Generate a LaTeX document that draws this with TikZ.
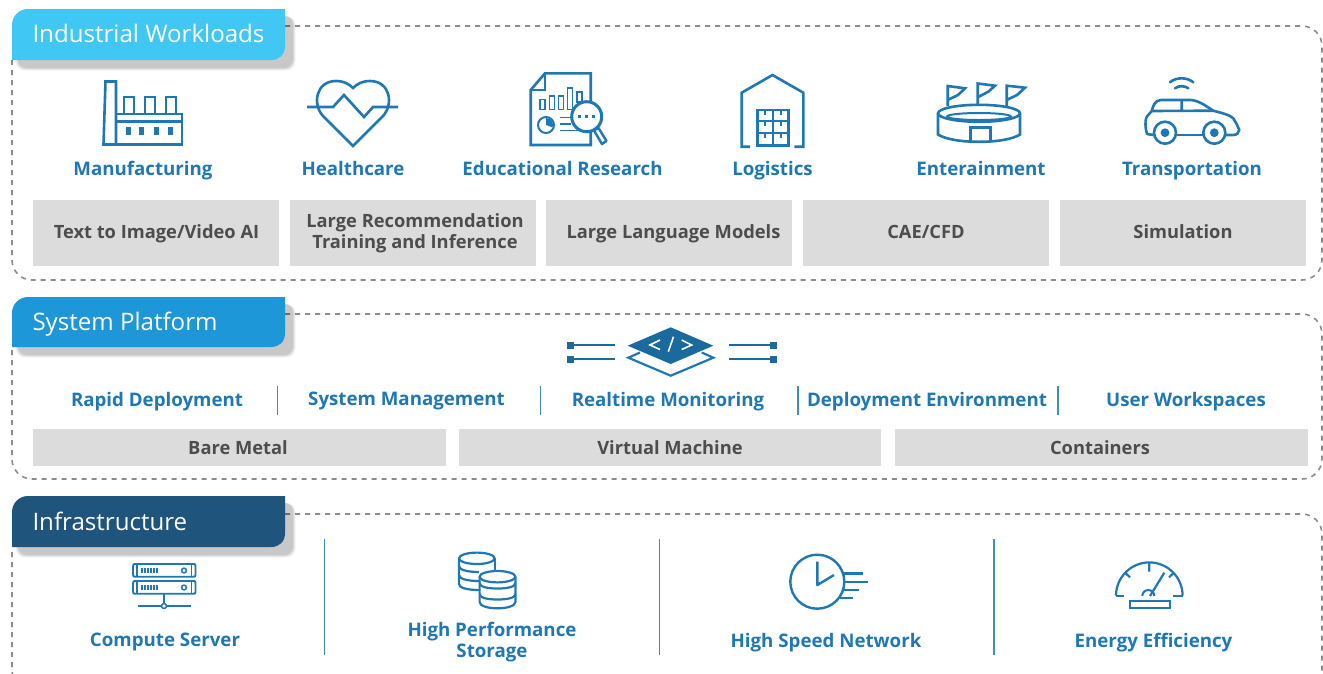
\documentclass[tikz,border=0pt]{standalone}
\usepackage{fontspec}
\setmainfont{Open Sans}
\definecolor{ink}{HTML}{1F78B4}
\definecolor{tabA}{HTML}{41C7F4}
\definecolor{tabB}{HTML}{1D97D8}
\definecolor{tabC}{HTML}{1F547C}
\definecolor{panelgrey}{HTML}{8C8C8C}
\definecolor{boxgrey}{HTML}{DCDCDC}
\definecolor{textgrey}{HTML}{4D4D4D}
\tikzset{
  panel/.style={draw=panelgrey,line width=1.6pt,dash pattern=on 5pt off 5pt,rounded corners=20pt},
  tabtitle/.style={anchor=west,text=white,inner sep=0pt,text height=18pt,text depth=0pt,font=\fontsize{24.1}{30}\selectfont},
  bluelabel/.style={inner sep=0pt,text=ink,text height=14pt,text depth=0pt,font=\fontsize{18.7}{23}\selectfont\bfseries},
  bluelabels/.style={inner sep=0pt,text=ink,align=center,font=\fontsize{18.7}{21}\selectfont\bfseries},
  greybox/.style={fill=boxgrey,draw=none,inner sep=0pt,text=textgrey,align=center,font=\fontsize{18.3}{21}\selectfont\bfseries},
  single/.style={text height=13.5pt,text depth=0pt},
  icon/.style={draw=ink,line width=2.6pt,line join=miter},
  thin icon/.style={draw=ink,line width=1.9pt,line join=round},
  sep/.style={draw=ink!85,line width=1.4pt},
}
\newcommand{\tabshape}[6]{% y0 y1 colour name text titley
  \foreach \k/\o in {9/0.04,7/0.05,5/0.06,3/0.08}{
    \fill[black,opacity=\o,rounded corners=9pt] (19-\k*0.4,#1+7) rectangle (292+\k*0.4,#2+7+\k*0.4);
  }
  \fill[#3] (12,#2) -- (12,#1+16) arc[start angle=180,end angle=90,radius=16pt] -- (285,#1) -- (285,#2-14) .. controls (285,#2-5) and (279,#2) .. (271,#2) -- cycle;
  \node[tabtitle] (#4) at (32.3,#6) {#5};
}
\begin{document}
\begin{tikzpicture}[x=1pt,y=-1pt]
\useasboundingbox (0,0) rectangle (1323,673);
\clip (0,0) rectangle (1323,673);
\fill[white] (0,0) rectangle (1323,673);
% panels
\draw[panel] (285,26) -- (1322,26) -- (1322,280) -- (12,280) -- (12,60);
\draw[panel] (285,314) -- (1322,314) -- (1322,479) -- (12,479) -- (12,347);
\draw[panel] (285,514) -- (1322,514) -- (1322,690) -- (12,690) -- (12,547);
% tabs
\tabshape{9}{60}{tabA}{tabone}{Industrial Workloads}{33.3}
\tabshape{297}{347}{tabB}{tabtwo}{System Platform}{321.3}
\tabshape{496}{547}{tabC}{tabthree}{Infrastructure}{521}
% factory
\draw[icon] (103.5,144.5) -- (105.5,81.5) -- (116,81.5) -- (116,144.5) -- cycle;
\draw[icon] (116,114) -- (182,114) -- (182,144.5) -- (116,144.5);
\draw[icon] (116,121.5) -- (182,121.5);
\foreach \a in {124,145,166}{\draw[icon] (\a,114) -- (\a,97) -- (\a+10,97) -- (\a+10,114);}
\foreach \a in {126,139,154,168}{\fill[ink] (\a,127) rectangle (\a+5,135);}
% heart
\draw[icon] (353,146) -- (323,116) .. controls (312,104) and (316,81) .. (336,81) .. controls (344,81) and (349,84) .. (353,88) .. controls (357,84) and (362,81) .. (370,81) .. controls (390,81) and (394,104) .. (383,116) -- cycle;
\draw[icon] (307,107) -- (333,107) -- (344,95) -- (364,117) -- (373,107) -- (398,107);
% document
\draw[icon] (590.7,101) -- (590.7,73.3) -- (545,73.3) -- (530.7,90) -- (530.7,145) -- (590.7,145) -- (590.7,131);
\draw[icon] (545,73.3) -- (545,90) -- (530.7,90);
\foreach \a/\b/\c in {540/99.5/109.5,549.5/95.7/109.5,558.5/95.7/109.5,567.5/87.7/109.5,576.7/92/102}{
  \draw[ink,line width=1.7pt] (\a,\c) -- (\a,\b) -- (\a+5,\b) -- (\a+5,\c) -- cycle;}
\draw[ink,line width=2pt] (546,125) circle[radius=8pt];
\fill[ink] (546,125) -- (546,118) arc[start angle=90,end angle=-20,radius=7pt] -- cycle;
\foreach \c/\d in {117.7/573,124/571,130.7/578}{\draw[ink,line width=1.4pt] (560,\c) -- (\d,\c);}
\fill[white] (586.7,116.7) circle[radius=15pt];
\draw[ink,line width=3pt] (586.7,116.7) circle[radius=15pt];
\draw[ink,line width=2.4pt,line join=round] (594,130.5) -- (598.5,128) -- (606.5,141) -- (602,144) -- cycle;
\foreach \a in {578,585,592}{\fill[ink] (\a,115.2) rectangle (\a+3,118.2);}
% warehouse
\draw[icon] (750,146.7) -- (741.7,146.7) -- (741.7,92.7) -- (772.5,75) -- (803.3,92.7) -- (803.3,146.7) -- (794.3,146.7);
\draw[icon] (757.5,110) rectangle (788.3,145.7);
\draw[icon] (757.5,121) -- (788.3,121) (757.5,133) -- (788.3,133) (772.9,110) -- (772.9,145.7);
\foreach \a in {765,780.7}{\foreach \b in {110,121,133}{\draw[ink,line width=2.4pt] (\a,\b) -- (\a,\b+4.5);}}
% stadium
\draw[icon,line width=2.6pt] (979,113.3) ellipse[x radius=41,y radius=8.5];
\draw[ink,line width=2pt] (979,116.5) ellipse[x radius=32,y radius=3.5];
\draw[icon,line width=2.6pt] (938,113.3) -- (938,134.5) .. controls (945,139) and (960,141.8) .. (979,141.8) .. controls (998,141.8) and (1013,139) .. (1020,134.5) -- (1020,113.3);
\draw[icon] (970.5,141) -- (970.5,127.5) -- (990.5,127.5) -- (990.5,141);
\draw[icon] (947.7,106) -- (947.7,86) -- (965,88.3) -- (958,95) -- (947.7,100);
\draw[icon] (977.7,104) -- (977.7,83.5) -- (995,85.7) -- (988.3,91.7) -- (977.7,97.3);
\draw[icon] (1006.7,106) -- (1006.7,85.7) -- (1025,87.7) -- (1017,95) -- (1006.7,100);
% car
\draw[icon,line join=round] (1153.3,135) -- (1147,134) .. controls (1145,128) and (1145,120) .. (1146.7,116.7) -- (1151.7,111) .. controls (1153,106) and (1155,100) .. (1161,100) -- (1190,100) .. controls (1198,100) and (1206,106) .. (1213.3,110.7) .. controls (1222,113) and (1230,115) .. (1233.3,118.3) .. controls (1236,123) and (1238,126) .. (1239.3,130) .. controls (1238.5,133) and (1237,135) .. (1233,135) -- (1226,135);
\draw[icon] (1176.5,135) -- (1203,135);
\draw[icon] (1151.7,111) -- (1213.3,110.7) (1181.7,100) -- (1181.7,111);
\foreach \a in {1165,1214.3}{\draw[icon] (\a,132.7) circle[radius=11pt]; \fill[ink] (\a,132.7) circle[radius=4.4pt];}
\draw[icon,line cap=round] (1170,82.3) .. controls (1176,77) and (1187,77) .. (1193.3,82.3);
\draw[icon,line cap=round] (1175,88.3) .. controls (1178,85.5) and (1185,85.5) .. (1188.3,88.3);
% labels row 1
\node[bluelabel] (manufacturing) at (143,168) {Manufacturing};
\node[bluelabel] (healthcare) at (353,168) {Healthcare};
\node[bluelabel] (research) at (562.5,168) {Educational Research};
\node[bluelabel] (logistics) at (772.5,168) {Logistics};
\node[bluelabel] (entertainment) at (981,168) {Enterainment};
\node[bluelabel] (transportation) at (1192,168) {Transportation};
% grey boxes row 1
\node[greybox,single,minimum width=246pt,minimum height=66pt] (g1) at (156,233) {\raisebox{1.5pt}{\hspace*{1pt}Text to Image/Video AI}};
\node[greybox,minimum width=246pt,minimum height=66pt] (g2) at (413,233) {\hspace*{4pt}Large Recommendation\\\hspace*{4pt}Training and Inference};
\node[greybox,single,minimum width=246pt,minimum height=66pt] (g3) at (669,233) {\raisebox{.8pt}{\hspace*{9pt}Large Language Models}};
\node[greybox,single,minimum width=246pt,minimum height=66pt] (g4) at (926,233) {\raisebox{.8pt}{CAE/CFD}};
\node[greybox,single,minimum width=246pt,minimum height=66pt] (g5) at (1183,233) {\raisebox{.8pt}{Simulation}};
% code icon
\draw[ink,line width=2.2pt,line join=miter] (640,352.5) -- (628.3,357.7) -- (670.7,375.7) -- (713.3,357.7) -- (701.7,352.5);
\fill[ink!88!black] (627.7,345.7) -- (670.7,327.3) -- (713.3,345.7) -- (670.7,364) -- cycle;
\draw[white,line width=1.6pt] (660,340) -- (650,345) -- (660,349.5);
\draw[white,line width=1.6pt] (673.5,336.7) -- (668.3,351.7);
\draw[white,line width=1.6pt] (681.7,340) -- (691.7,345) -- (681.7,349.5);
\foreach \c in {345.3,359.3}{
  \draw[ink!88!black,line width=2.2pt] (570,\c) -- (615.3,\c) (729,\c) -- (774,\c);
  \fill[ink!88!black] (567,\c-3.4) rectangle (573.7,\c+3.4);
  \fill[ink!88!black] (770.2,\c-3.4) rectangle (777,\c+3.4);
}
% labels row 2
\node[bluelabel] (rapid) at (157,399) {Rapid Deployment};
\node[bluelabel] (management) at (406.5,398) {System Management};
\node[bluelabel] (monitoring) at (668,399) {Realtime Monitoring};
\node[bluelabel] (environment) at (927,399) {Deployment Environment};
\node[bluelabel] (workspaces) at (1186,399) {User Workspaces};
\foreach \a in {277.5,540.5,798,1058}{\draw[sep] (\a,386) -- (\a,415);}
\node[greybox,single,minimum width=413pt,minimum height=37pt] (b1) at (239.5,447.5) {\hspace*{-3pt}Bare Metal};
\node[greybox,single,minimum width=422pt,minimum height=37pt] (b2) at (670,447.5) {Virtual Machine};
\node[greybox,single,minimum width=413pt,minimum height=37pt] (b3) at (1101.5,447.5) {\hspace*{-3pt}Containers};
% row 3 separators
\foreach \a in {324.5,659.5,994}{\draw[sep] (\a,539) -- (\a,655);}
% server
\foreach \c in {564,581}{
  \draw[thin icon] (133,\c+2) .. controls (133,\c) and (134,\c) .. (135,\c) -- (193.5,\c) .. controls (195,\c) and (195.5,\c) .. (195.5,\c+2) -- (195.5,\c+10.7) .. controls (195.5,\c+12.7) and (195,\c+12.7) .. (193.5,\c+12.7) -- (135,\c+12.7) .. controls (134,\c+12.7) and (133,\c+12.7) .. (133,\c+10.7) -- cycle;
  \draw[ink,line width=1.3pt] (137,\c) -- (137,\c+12.7) (191.5,\c) -- (191.5,\c+12.7);
  \foreach \a in {142,145,148,151,154,157}{\draw[ink,line width=1.2pt] (\a,\c+4) -- (\a,\c+9);}
  \draw[ink,line width=1.5pt] (184,\c+6.5) circle[radius=2.4pt];
}
\draw[ink,line width=1.5pt] (164,593.7) -- (164,603.5);
\draw[ink,line width=1.5pt] (164,606) circle[radius=2.5pt];
\draw[ink,line width=1.5pt] (137.5,606) -- (161.5,606) (166.5,606) -- (190.7,606);
% storage
\draw[thin icon,line width=2.2pt] (476.8,558.3) ellipse[x radius=17.8,y radius=5.7];
\draw[thin icon,line width=2.2pt] (459,558.3) -- (459,584) .. controls (459,588) and (468,590) .. (479,590);
\draw[thin icon,line width=2.2pt] (494.6,558.3) -- (494.6,570.7);
\draw[thin icon,line width=2.2pt] (459,566) .. controls (459,570) and (468,572) .. (479,572);
\draw[thin icon,line width=2.2pt] (459,575) .. controls (459,579) and (468,581) .. (479,581);
\draw[thin icon,line width=2.2pt,fill=white] (497.5,576.7) ellipse[x radius=17.9,y radius=5.7];
\draw[thin icon,line width=2.2pt] (479.6,576.7) -- (479.6,602) .. controls (479.6,606) and (488,608.3) .. (497.5,608.3) .. controls (507,608.3) and (515.4,606) .. (515.4,602) -- (515.4,576.7);
\foreach \c in {583,594}{\draw[thin icon,line width=2.2pt] (479.6,\c) .. controls (479.6,\c+4) and (488,\c+5.5) .. (497.5,\c+5.5) .. controls (507,\c+5.5) and (515.4,\c+4) .. (515.4,\c);}
% clock
\draw[ink,line width=2.4pt] (817.3,581.7) circle[radius=27pt];
\draw[ink,line width=2.4pt,line join=round] (817.3,561.7) -- (817.3,585) -- (834,575);
\draw[ink,line width=2.4pt] (843.3,573.3) -- (862.7,573.3) (844,581.7) -- (867.7,581.7) (843.3,590) -- (858.7,590) (840,597.7) -- (853.3,597.7);
% gauge
\draw[ink,line width=2.2pt] (1116,595.7) arc[start angle=180,end angle=0,radius=33.3pt];
\draw[ink,line width=2.2pt] (1116,595.7) -- (1124,595.7) (1173.3,595.7) -- (1182.6,595.7);
\draw[ink,line width=2.2pt] (1149.3,562.3) -- (1149.3,571.7) (1125.7,573.3) -- (1130,577.3) (1173.3,573.3) -- (1169,577.3);
\draw[ink,line width=2.2pt] (1150,596) -- (1164.3,572.7);
\draw[ink,line width=2pt] (1142.3,596) arc[start angle=180,end angle=0,radius=6pt];
\draw[ink,line width=2.2pt] (1130,600.7) rectangle (1170,608.3);
% labels row 3
\node[bluelabel] (compute) at (165,639.5) {Compute Server};
\node[bluelabels] (storage) at (492,642.5) {High Performance\\Storage};
\node[bluelabel] (network) at (826,640) {High Speed Network};
\node[bluelabel] (energy) at (1153.5,640) {Energy Efficiency};
\end{tikzpicture}
\end{document}
